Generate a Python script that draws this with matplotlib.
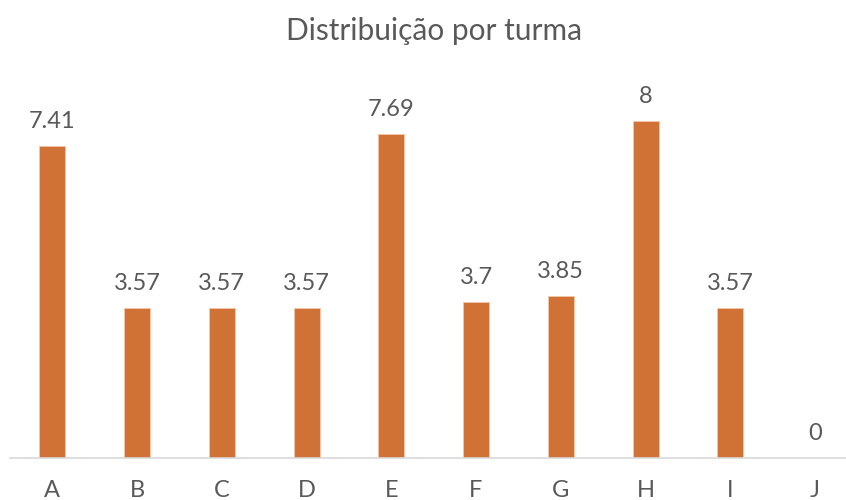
import matplotlib
matplotlib.use("Agg")
from matplotlib import pyplot as plt

turmas = ["A", "B", "C", "D", "E", "F", "G", "H", "I", "J"]
valores = [7.41, 3.57, 3.57, 3.57, 7.69, 3.7, 3.85, 8, 3.57, 0]
rotulos = ["7.41", "3.57", "3.57", "3.57", "7.69", "3.7", "3.85", "8", "3.57", "0"]

cor_barra = "#D07236"
cor_texto = "#595959"
plt.rcParams["font.family"] = ["Lato", "DejaVu Sans"]

fig = plt.figure(figsize=(8.46, 5), dpi=100)
# axes from x=10px to 846px, baseline at y=458px, top at y=79px
ax = fig.add_axes([10 / 846, 42 / 500, 836 / 846, 379 / 500])
x = list(range(len(turmas)))
bars = ax.bar(x, valores, width=0.307, color=cor_barra, edgecolor="#F2C7A8", linewidth=0.6)

ax.set_xlim(-0.5, 9.366)
ax.set_ylim(0, 9)
for xi, v, r in zip(x, valores, rotulos):
    ax.annotate(r, (xi, v), xytext=(0, 10), textcoords="offset points",
                ha="center", va="bottom", fontsize=17, color=cor_texto)

ax.set_xticks(x)
ax.set_xticklabels(turmas, fontsize=17, color=cor_texto)
ax.tick_params(axis="x", length=0, pad=16)
ax.set_yticks([])
for s in ["top", "right", "left"]:
    ax.spines[s].set_visible(False)
ax.spines["bottom"].set_color("#D9D9D9")
ax.spines["bottom"].set_linewidth(1.2)

fig.text(434 / 846, 1 - 31 / 500, "Distribuição por turma", ha="center", va="center",
         fontsize=21.5, color=cor_texto)

fig.savefig("out.png", dpi=100)
